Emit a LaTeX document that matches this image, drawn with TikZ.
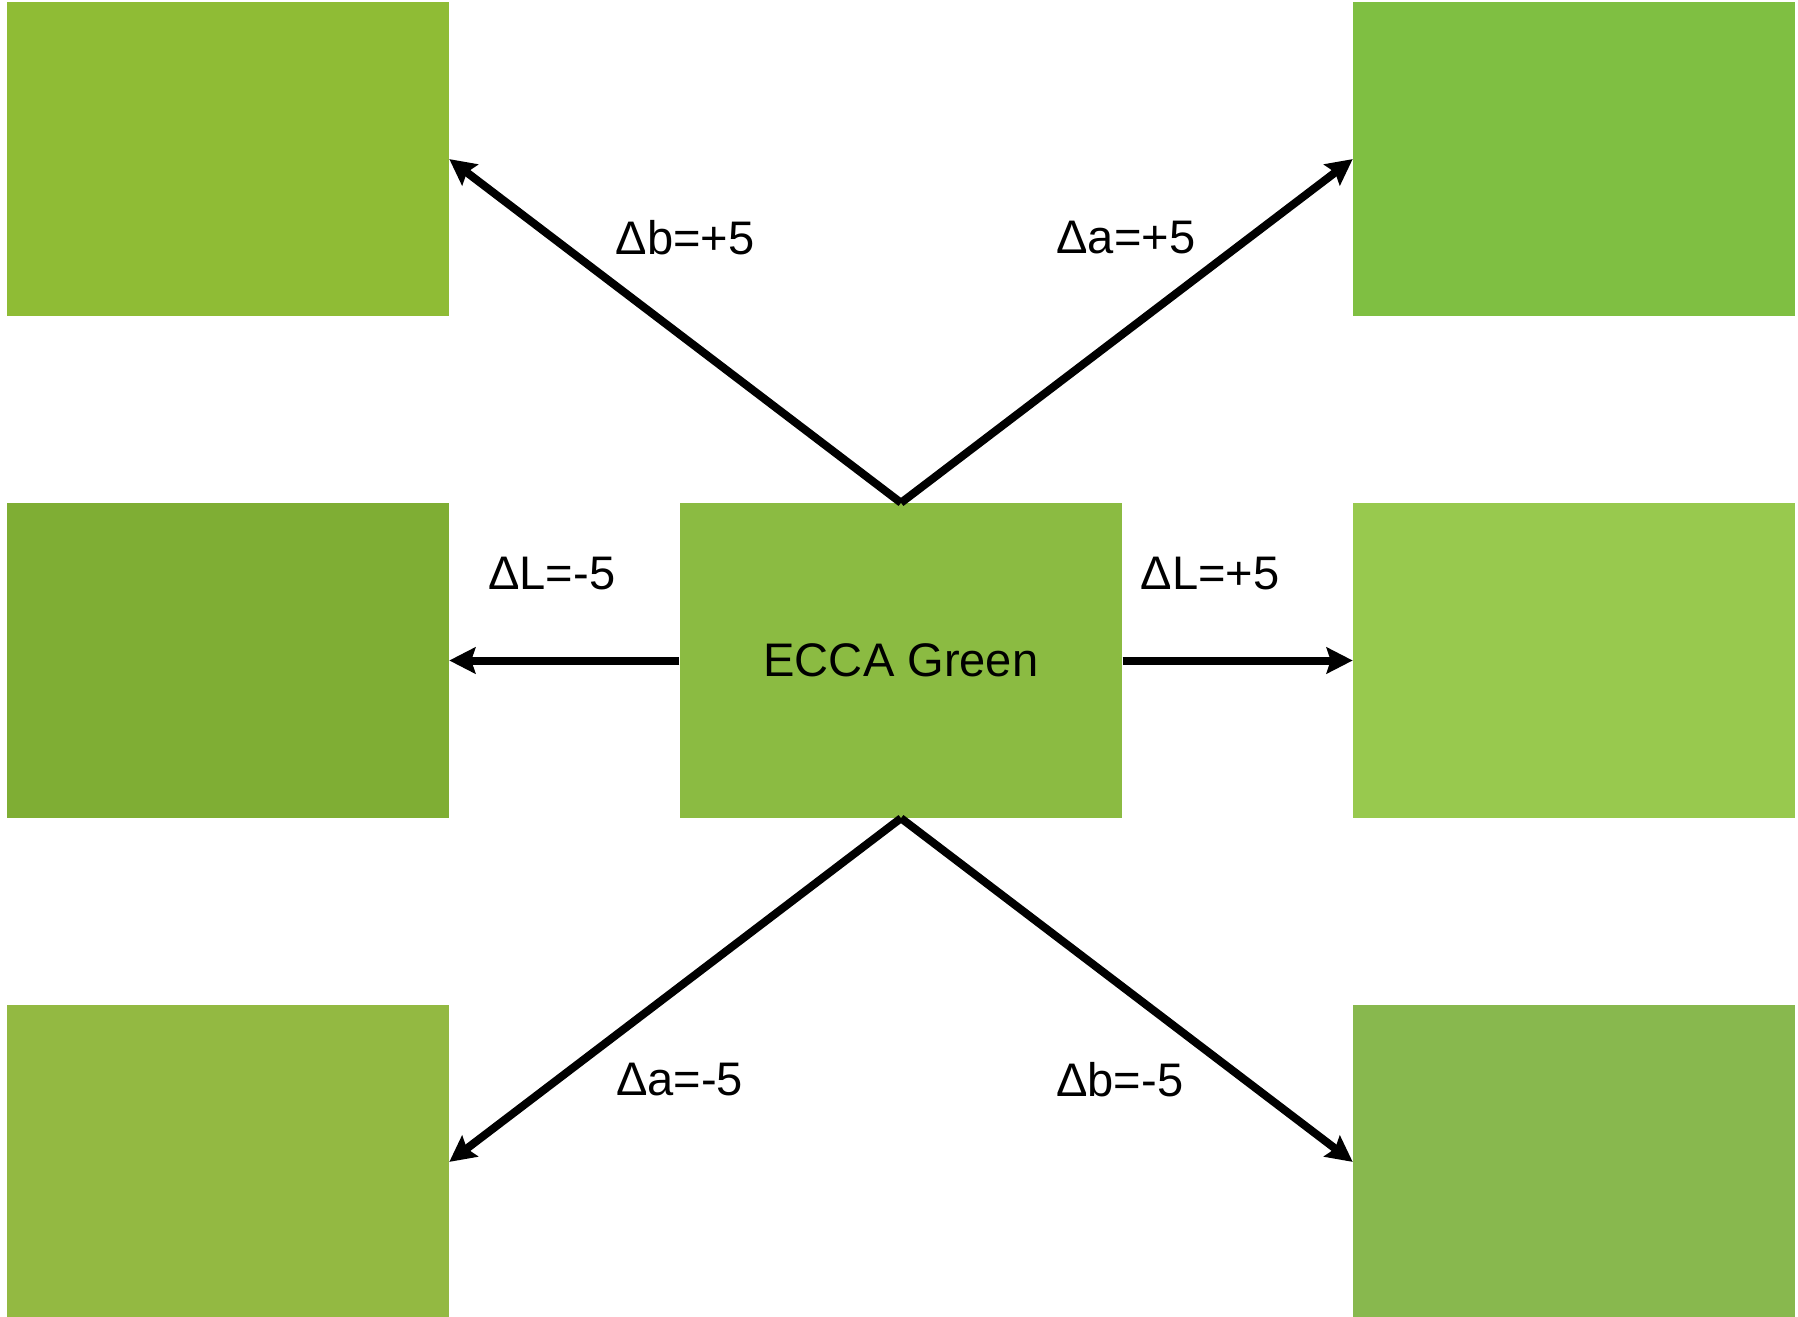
\documentclass[tikz,border=0pt]{standalone}
\usepackage{fontspec}
\setmainfont{Liberation Sans}
\usetikzlibrary{arrows.meta, positioning}
\definecolor{eccagreen}{RGB}{139,187,66}
\definecolor{bplus}{RGB}{143,188,53}
\definecolor{aplus}{RGB}{127,191,66}
\definecolor{lminus}{RGB}{127,174,52}
\definecolor{lplus}{RGB}{152,201,78}
\definecolor{aminus}{RGB}{147,185,66}
\definecolor{bminus}{RGB}{136,184,78}
\tikzset{arrow/.style={line width=0.08cm, -{Stealth[length=0.26cm, width=0.26cm, inset=0.04cm]}}}

\begin{document}
\begin{tikzpicture}[
    swatch/.style={rectangle, draw=none, minimum width=4.42cm, minimum height=3.14cm, inner sep=0pt},
    shift label/.style={midway, inner sep=0pt},
    font=\fontsize{13.4}{16}\selectfont,
    node distance=1.86cm and 2.30cm
  ]
    \useasboundingbox (-9.01,6.605) rectangle (8.97,-6.555);

    % reference colour in the middle
    \node[swatch, fill=eccagreen] (ecca) {ECCA Green};

    % neighbouring colours
    \node[swatch, fill=bplus, above left=of ecca] (bup) {};
    \node[swatch, fill=aplus, above right=of ecca] (aup) {};
    \node[swatch, fill=lminus, left=of ecca] (ldown) {};
    \node[swatch, fill=lplus, right=of ecca] (lup) {};
    \node[swatch, fill=aminus, below left=of ecca] (adown) {};
    \node[swatch, fill=bminus, below right=of ecca] (bdown) {};

    % steps in Lab space
    \draw[arrow] (ecca.north) -- node[shift label, xshift=0.10cm, yshift=0.93cm] (lbup) {Δb=+5} (bup.east);
    \draw[arrow] (ecca.north) -- node[shift label, xshift=-0.01cm, yshift=0.93cm] (laup) {Δa=+5} (aup.west);
    \draw[arrow] (ecca.west) -- node[shift label, xshift=-0.125cm, yshift=0.87cm] (lldown) {ΔL=-5} (ldown.east);
    \draw[arrow] (ecca.east) -- node[shift label, xshift=-0.275cm, yshift=0.87cm] (llup) {ΔL=+5} (lup.west);
    \draw[arrow] (ecca.south) -- node[shift label, xshift=0.045cm, yshift=-0.895cm] (ladown) {Δa=-5} (adown.east);
    \draw[arrow] (ecca.south) -- node[shift label, xshift=-0.07cm, yshift=-0.895cm] (lbdown) {Δb=-5} (bdown.west);
\end{tikzpicture}
\end{document}
